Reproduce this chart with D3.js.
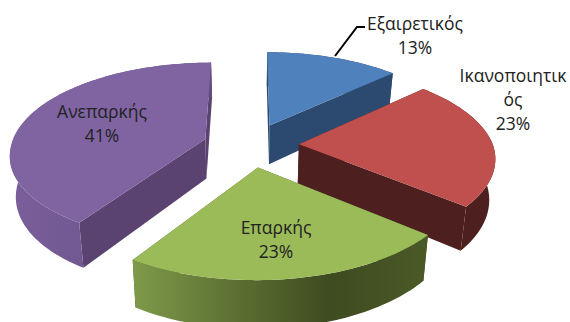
<!DOCTYPE html>
<html>
<head>
<meta charset="utf-8">
<script src="https://cdnjs.cloudflare.com/ajax/libs/d3/7.8.5/d3.min.js"></script>
<style>
 body { margin: 0; background: #fff; }
 svg { display: block; }
 text { font-family: "Open Sans", "Noto Sans", sans-serif; font-size: 17.5px; fill: #222; text-anchor: middle; }
</style>
</head>
<body>
<script>
// values
var categories = ["Εξαιρετικός", "Ικανοποιητικός", "Επαρκής", "Ανεπαρκής"];
var values = [13, 23, 23, 41];
var labelLines = [["Εξαιρετικός", "13%"], ["Ικανοποιητικ", "ός", "23%"], ["Επαρκής", "23%"], ["Ανεπαρκής", "41%"]];
var topColors = ["#4f81bd", "#c0504d", "#9bbb59", "#8064a2"];
var faceColors = ["#2c4a70", "#4d1f1e", "#46562a", "#5a4370"];
var wallStops = [
  ["#2c4a70", "#2c4a70"],
  ["#4d1f1e", "#4d1f1e"],
  ["#7f9a4a", "#5d7233", "#3f4b20", "#4a5a27"],
  ["#7a5f9a", "#6f568e", "#644c80"]
];
var labelPos = [[415, 24], [513, 76], [276, 228], [102, 112]];

var width = 570, height = 322;

// projection of the tilted pie
var cx = 251, cy = 145, radiusX = 194, radiusY = 89;
var explode = 0.2475, persp = 0.145, depth = 40, taper = 0.025, shear = 3.5;

function project(u, v, z) {
  var s = 1 / (1 + persp * v);
  var lean = v < 0 ? shear * v : 0; // the near half leans a bit to the left
  return [cx + lean + radiusX * u * s * (1 - taper * z / depth), cy - radiusY * v * s + z * s];
}

var svg = d3.select("body").append("svg")
  .attr("width", width)
  .attr("height", height);

var defs = svg.append("defs");
var pie = d3.pie().sort(null)(values);
var line = d3.line();

var slices = pie.map(function(d) {
  var mid = (d.startAngle + d.endAngle) / 2;
  var ox = Math.sin(mid) * explode, oy = Math.cos(mid) * explode;
  var n = Math.ceil((d.endAngle - d.startAngle) * 40);
  var angles = d3.range(n + 1).map(function(i) {
    return d.startAngle + (d.endAngle - d.startAngle) * i / n;
  });
  return {
    index: d.index,
    apex: [ox, oy],
    rim: angles.map(function(a) { return [ox + Math.sin(a), oy + Math.cos(a)]; })
  };
});

function wall(a, b) {
  var pts = a.map(function(p) { return project(p[0], p[1], 0); });
  var low = b.slice().reverse().map(function(p) { return project(p[0], p[1], depth); });
  return line(pts.concat(low)) + "Z";
}

// painter's order: back slices first
[0, 3, 1, 2].forEach(function(i) {
  var sl = slices[i];
  var g = svg.append("g").attr("class", "slice");
  var rimPx = sl.rim.map(function(p) { return project(p[0], p[1], 0); });
  var xExtent = d3.extent(rimPx, function(p) { return p[0]; });

  var grad = defs.append("linearGradient")
    .attr("id", "wall" + i)
    .attr("gradientUnits", "userSpaceOnUse")
    .attr("x1", xExtent[0]).attr("x2", xExtent[1])
    .attr("y1", 0).attr("y2", 0);
  wallStops[i].forEach(function(c, j) {
    grad.append("stop")
      .attr("offset", j / (wallStops[i].length - 1))
      .attr("stop-color", c);
  });

  // radial cut faces
  g.append("path").attr("d", wall([sl.apex, sl.rim[0]], [sl.apex, sl.rim[0]])).attr("fill", faceColors[i]);
  g.append("path").attr("d", wall([sl.apex, sl.rim[sl.rim.length - 1]], [sl.apex, sl.rim[sl.rim.length - 1]])).attr("fill", faceColors[i]);
  // outer wall
  g.append("path").attr("d", wall(sl.rim, sl.rim)).attr("fill", "url(#wall" + i + ")");
  // top surface
  g.append("path")
    .attr("d", line([project(sl.apex[0], sl.apex[1], 0)].concat(rimPx)) + "Z")
    .attr("fill", topColors[i]);
});

// leader line for the first label
svg.append("path")
  .attr("d", line([[335, 56], [357, 27], [365, 27]]))
  .attr("fill", "none")
  .attr("stroke", "#000")
  .attr("stroke-width", 2);

labelLines.forEach(function(lines, i) {
  var t = svg.append("text")
    .attr("x", labelPos[i][0])
    .attr("y", labelPos[i][1] + 6);
  lines.forEach(function(s, j) {
    t.append("tspan")
      .attr("x", labelPos[i][0])
      .attr("dy", j ? 24 : 0)
      .text(s);
  });
});
</script>
</body>
</html>
